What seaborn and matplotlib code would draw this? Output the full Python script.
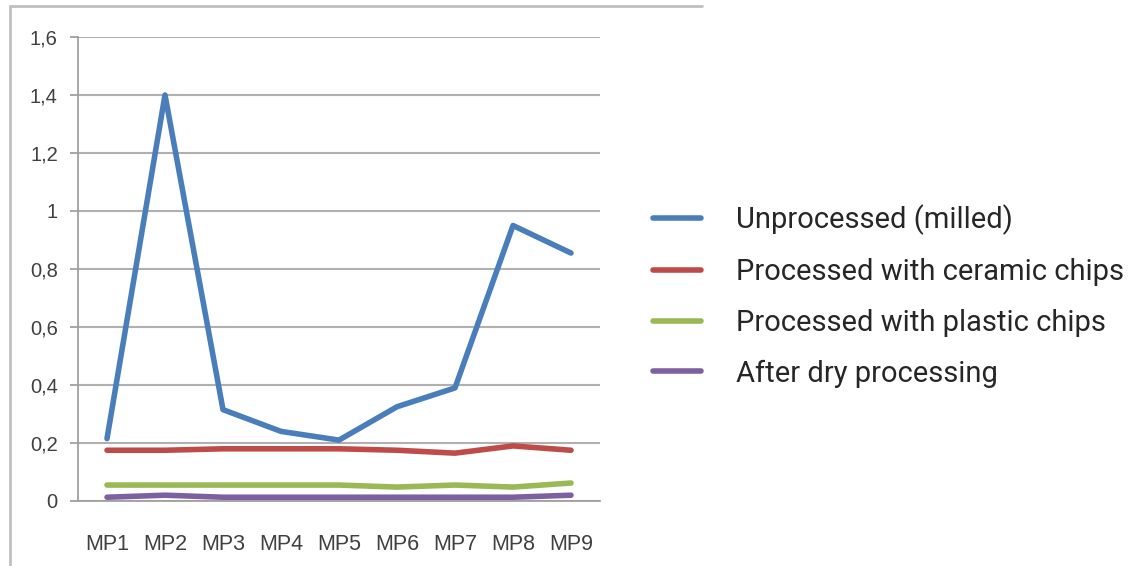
import numpy as np
import pandas as pd
import seaborn as sns
import matplotlib
matplotlib.use("Agg")
from matplotlib import pyplot as plt
from matplotlib.lines import Line2D
from matplotlib.ticker import FuncFormatter, FixedLocator

categories = ["MP1", "MP2", "MP3", "MP4", "MP5", "MP6", "MP7", "MP8", "MP9"]
unprocessed = [0.215, 1.40, 0.315, 0.24, 0.21, 0.325, 0.39, 0.95, 0.855]
ceramic = [0.175, 0.175, 0.18, 0.18, 0.18, 0.175, 0.165, 0.19, 0.175]
plastic = [0.055, 0.055, 0.055, 0.055, 0.055, 0.048, 0.055, 0.048, 0.062]
dry = [0.013, 0.02, 0.013, 0.013, 0.013, 0.013, 0.013, 0.013, 0.02]

series_names = ["Unprocessed (milled)", "Processed with ceramic chips",
                "Processed with plastic chips", "After dry processing"]
colors = ["#4a7ebb", "#be4b48", "#98b954", "#7d60a0"]

df = pd.DataFrame({"cat": categories * 4,
                   "pos": list(range(len(categories))) * 4,
                   "value": unprocessed + ceramic + plastic + dry,
                   "series": np.repeat(series_names, len(categories))})

sns.set_style("white")
plt.rcParams["font.family"] = ["Liberation Sans", "DejaVu Sans"]
fig = plt.figure(figsize=(11.28, 5.66), dpi=100)
ax = fig.add_axes([78 / 1128, 1 - 501 / 566, 522 / 1128, 464 / 566])

sns.lineplot(data=df, x="pos", y="value", hue="series", palette=colors,
             linewidth=4, ax=ax, legend=False, solid_capstyle="round")

ax.set_xlim(-0.5, len(categories) - 0.5)
ax.set_ylim(0, 1.6)
ax.set_yticks(np.arange(0, 1.61, 0.2))
ax.yaxis.set_major_formatter(FuncFormatter(
    lambda v, p: "0" if abs(v) < 1e-9 else ("1" if abs(v - 1) < 1e-9 else f"{v:.1f}".replace(".", ","))))
ax.grid(axis="y", color="#b0b0b0", linewidth=1.5)
ax.set_axisbelow(True)

ax.set_xticks(range(len(categories)))
ax.set_xticklabels(categories)
ax.xaxis.set_minor_locator(FixedLocator(np.arange(-0.5, len(categories), 1)))
ax.tick_params(axis="x", which="major", length=0, pad=24, labelsize=15.5, labelcolor="#404040")
ax.tick_params(axis="x", which="minor", length=6, width=1.3, color="#a0a0a0", direction="out")
ax.tick_params(axis="y", length=5.5, width=1.3, color="#a0a0a0", pad=9, labelsize=14.5,
               labelcolor="#404040", direction="out", left=True)
ax.set_xlabel("")
ax.set_ylabel("")

for side in ["top", "right"]:
    ax.spines[side].set_visible(False)
for side in ["left", "bottom"]:
    ax.spines[side].set_color("#a0a0a0")
    ax.spines[side].set_linewidth(1.3)

# chart-area border (cropped)
fig.add_artist(Line2D([10 / 1128, 702 / 1128], [1 - 6 / 566, 1 - 6 / 566],
                      transform=fig.transFigure, color="#c0c0c0", linewidth=2))
fig.add_artist(Line2D([10 / 1128, 10 / 1128], [1 - 6 / 566, 0],
                      transform=fig.transFigure, color="#c0c0c0", linewidth=2))

handles = [Line2D([], [], color=c, linewidth=4, solid_capstyle="round") for c in colors]
fig.legend(handles, series_names, loc="upper left", bbox_to_anchor=(638 / 1128, 1 - 190 / 566),
           frameon=False, prop={"family": "Roboto", "size": 21}, handlelength=1.65,
           handletextpad=1.2, labelspacing=0.78, borderpad=0)

fig.savefig("out.png", dpi=100)
